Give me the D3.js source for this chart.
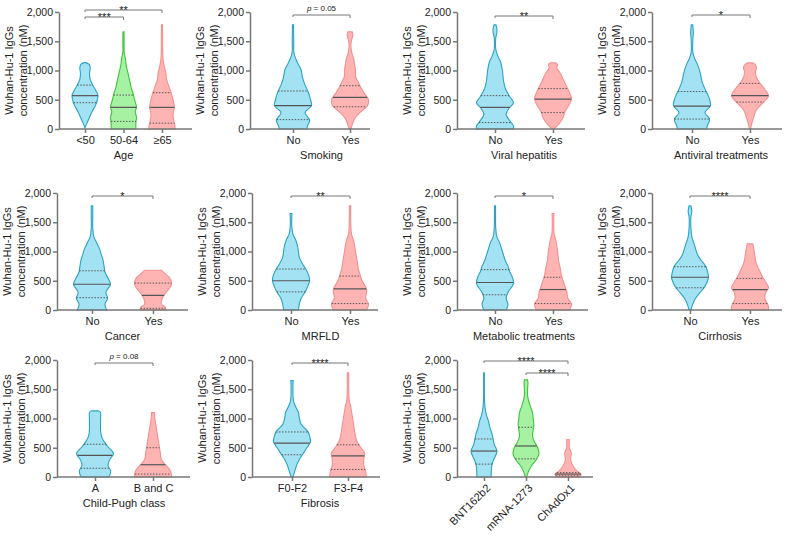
<!DOCTYPE html>
<html>
<head>
<meta charset="utf-8">
<script src="https://cdn.jsdelivr.net/npm/d3@7"></script>
<style>
  body { margin: 0; background: #fff; }
  text { font-family: "Liberation Sans", Arial, sans-serif; fill: #222; }
</style>
</head>
<body>
<script>
// ---- data: violin profiles are [value (nM), relative half-width 0..1] ----
// quartiles are [q1, median, q3]

var ageCats = ["<50", "50-64", "≥65"];
var ageProfiles = [
  [[20,0],[100,0.15],[200,0.35],[300,0.55],[400,0.8],[500,0.95],[570,1],[650,0.85],[750,0.6],[850,0.4],[950,0.35],[1050,0.4],[1110,0.3],[1135,0.05]],
  [[0,0.95],[100,0.95],[200,1],[300,0.9],[370,1],[500,0.85],[600,0.75],[700,0.6],[800,0.5],[900,0.4],[1000,0.3],[1100,0.2],[1200,0.15],[1300,0.06],[1500,0.05],[1660,0.04]],
  [[0,1],[50,1],[150,0.9],[250,0.85],[370,0.95],[500,0.85],[620,0.7],[750,0.5],[850,0.35],[950,0.3],[1100,0.15],[1200,0.08],[1400,0.05],[1600,0.05],[1780,0.04]]
];
var ageQuart = [[450,570,750],[130,370,580],[100,370,620]];

var smokingCats = ["No", "Yes"];
var smokingProfiles = [
  [[0,0.75],[50,0.78],[150,0.9],[280,0.65],[400,1],[500,0.95],[650,0.8],[750,0.65],[900,0.5],[1000,0.45],[1100,0.3],[1200,0.15],[1300,0.05],[1500,0.04],[1780,0.03]],
  [[0,0.05],[100,0.15],[200,0.3],[300,0.6],[400,0.95],[500,1],[600,0.8],[700,0.6],[800,0.45],[900,0.3],[1000,0.3],[1100,0.25],[1200,0.2],[1300,0.1],[1400,0.05],[1500,0.07],[1600,0.15],[1660,0.12]]
];
var smokingQuart = [[160,400,650],[380,540,740]];

var viralCats = ["No", "Yes"];
var viralProfiles = [
  [[0,1],[50,1],[120,0.85],[250,0.6],[350,0.75],[450,1],[550,0.8],[700,0.55],[850,0.45],[1000,0.4],[1150,0.3],[1250,0.15],[1350,0.05],[1550,0.04],[1650,0.1],[1720,0.1],[1780,0.05]],
  [[0,0.05],[100,0.35],[200,0.55],[300,0.65],[400,0.85],[520,1],[650,0.85],[750,0.7],[850,0.55],[950,0.4],[1050,0.2],[1100,0.25],[1130,0.15]]
];
var viralQuart = [[110,370,570],[280,510,690]];

var antiviralCats = ["No", "Yes"];
var antiviralProfiles = [
  [[0,0.8],[50,0.82],[170,0.95],[280,0.7],[400,1],[550,0.9],[650,0.75],[800,0.55],[950,0.45],[1100,0.3],[1200,0.15],[1300,0.05],[1500,0.04],[1650,0.07],[1780,0.04]],
  [[0,0.03],[100,0.1],[200,0.2],[300,0.3],[400,0.55],[480,0.8],[570,1],[680,0.8],[780,0.55],[880,0.35],[980,0.3],[1050,0.35],[1110,0.25],[1130,0.1]]
];
var antiviralQuart = [[170,390,640],[460,570,780]];

var cancerCats = ["No", "Yes"];
var cancerProfiles = [
  [[0,0.8],[100,0.7],[200,0.85],[300,0.75],[440,1],[550,0.85],[650,0.7],[750,0.65],[850,0.6],[950,0.5],[1050,0.4],[1150,0.25],[1250,0.1],[1400,0.04],[1600,0.04],[1780,0.04]],
  [[0,0.7],[50,0.65],[100,0.45],[200,0.5],[300,0.7],[400,0.95],[470,1],[550,0.9],[620,0.65],[680,0.45]]
];
var cancerQuart = [[210,440,670],[30,250,460]];

var mrfldCats = ["No", "Yes"];
var mrfldProfiles = [
  [[0,0.4],[100,0.45],[200,0.55],[300,0.75],[400,0.9],[500,1],[600,0.95],[700,0.8],[800,0.6],[900,0.45],[1000,0.4],[1100,0.35],[1200,0.25],[1300,0.1],[1450,0.04],[1650,0.05]],
  [[0,0.9],[100,1],[200,0.85],[350,0.9],[500,0.65],[600,0.55],[700,0.45],[800,0.4],[900,0.35],[1000,0.3],[1100,0.25],[1200,0.18],[1300,0.08],[1500,0.04],[1780,0.04]]
];
var mrfldQuart = [[310,500,700],[110,360,580]];

var metabolicCats = ["No", "Yes"];
var metabolicProfiles = [
  [[0,0.6],[100,0.7],[200,0.6],[300,0.7],[450,1],[550,0.95],[650,0.8],[750,0.7],[850,0.55],[950,0.45],[1050,0.35],[1150,0.25],[1250,0.1],[1400,0.04],[1600,0.03],[1780,0.03]],
  [[0,0.9],[100,1],[200,0.8],[300,0.75],[400,0.65],[500,0.55],[600,0.45],[700,0.4],[850,0.3],[1000,0.25],[1100,0.2],[1200,0.15],[1300,0.06],[1500,0.04],[1650,0.05]]
];
var metabolicQuart = [[260,470,690],[110,350,560]];

var cirrhosisCats = ["No", "Yes"];
var cirrhosisProfiles = [
  [[0,0.05],[100,0.15],[200,0.3],[300,0.55],[400,0.8],[500,0.95],[560,1],[650,0.95],[750,0.85],[850,0.6],[950,0.4],[1050,0.3],[1150,0.2],[1250,0.1],[1400,0.05],[1600,0.05],[1680,0.1],[1780,0.05]],
  [[0,1],[50,1],[100,0.95],[200,0.8],[300,0.85],[380,1],[450,0.9],[550,0.7],[650,0.55],[750,0.4],[850,0.3],[950,0.25],[1050,0.2],[1130,0.15]]
];
var cirrhosisQuart = [[380,560,740],[110,350,540]];

var childCats = ["A", "B and C"];
var childProfiles = [
  [[0,0.75],[100,0.85],[200,0.7],[300,0.8],[400,1],[500,0.75],[600,0.5],[700,0.35],[800,0.3],[900,0.3],[1000,0.3],[1100,0.3],[1130,0.2]],
  [[0,1],[100,0.95],[200,0.7],[300,0.45],[400,0.4],[500,0.35],[600,0.3],[700,0.25],[800,0.2],[900,0.15],[1000,0.1],[1100,0.08]]
];
var childQuart = [[150,370,560],[50,210,500]];

var fibrosisCats = ["F0-F2", "F3-F4"];
var fibrosisProfiles = [
  [[0,0.05],[100,0.15],[200,0.25],[300,0.4],[400,0.6],[500,0.8],[600,1],[700,0.95],[780,0.85],[900,0.5],[1000,0.4],[1100,0.35],[1200,0.2],[1300,0.08],[1500,0.05],[1650,0.06]],
  [[0,1],[100,0.95],[200,0.85],[300,0.85],[400,0.9],[500,0.7],[600,0.5],[700,0.4],[800,0.35],[900,0.3],[1000,0.25],[1100,0.2],[1200,0.15],[1300,0.07],[1500,0.04],[1780,0.04]]
];
var fibrosisQuart = [[380,580,770],[130,360,550]];

var vaccineCats = ["BNT162b2", "mRNA-1273", "ChAdOx1"];
var vaccineProfiles = [
  [[0,0.55],[200,0.6],[300,0.75],[440,1],[550,0.8],[650,0.7],[750,0.6],[850,0.45],[950,0.35],[1050,0.2],[1150,0.1],[1300,0.04],[1500,0.03],[1780,0.03]],
  [[0,0.05],[100,0.2],[200,0.45],[300,0.8],[400,1],[500,0.9],[600,0.65],[700,0.5],[800,0.55],[900,0.6],[1000,0.55],[1100,0.5],[1200,0.35],[1300,0.2],[1400,0.12],[1500,0.12],[1600,0.15],[1660,0.12]],
  [[0,0.9],[50,1],[100,0.7],[200,0.35],[300,0.2],[400,0.25],[450,0.2],[500,0.1],[600,0.1],[640,0.1]]
];
var vaccineQuart = [[220,444,650],[310,530,850],[20,50,75]];

var yTicks = [0, 500, 1000, 1500, 2000];

// colours
var palette = {
  blue:  {fill: "#a3e2f3", stroke: "#2aa2c4"},
  green: {fill: "#a6f2a2", stroke: "#3cc63c"},
  pink:  {fill: "#ffb4b4", stroke: "#f29090"}
};

// layout of the 11 panels (positions only)
var panels = [
  {cats: ageCats, prof: ageProfiles, quart: ageQuart, col: ["blue","green","pink"], title: "Age",
   ax: 59, xEnd: 192, range: [85,162], y0: 129, hw: 13,
   sig: [[0,2,"**",-2],[0,1,"***",5]]},
  {cats: smokingCats, prof: smokingProfiles, quart: smokingQuart, col: ["blue","pink"], title: "Smoking",
   ax: 250, xEnd: 370, range: [293,350], y0: 129, hw: 18.5, sig: [[0,1,"p = 0.05",3]]},
  {cats: viralCats, prof: viralProfiles, quart: viralQuart, col: ["blue","pink"], title: "Viral hepatitis",
   ax: 457, xEnd: 585, range: [495,553], y0: 129, hw: 18.5, sig: [[0,1,"**",4]]},
  {cats: antiviralCats, prof: antiviralProfiles, quart: antiviralQuart, col: ["blue","pink"], title: "Antiviral treatments",
   ax: 652, xEnd: 782, range: [692,750], y0: 129, hw: 18.5, sig: [[0,1,"*",3]]},
  {cats: cancerCats, prof: cancerProfiles, quart: cancerQuart, col: ["blue","pink"], title: "Cancer",
   ax: 57, xEnd: 188, range: [92,153], y0: 310, hw: 18.5, sig: [[0,1,"*",3]]},
  {cats: mrfldCats, prof: mrfldProfiles, quart: mrfldQuart, col: ["blue","pink"], title: "MRFLD",
   ax: 252, xEnd: 378, range: [291,350], y0: 310, hw: 18.5, sig: [[0,1,"**",3]]},
  {cats: metabolicCats, prof: metabolicProfiles, quart: metabolicQuart, col: ["blue","pink"], title: "Metabolic treatments",
   ax: 457, xEnd: 588, range: [495,553], y0: 310, hw: 18.5, sig: [[0,1,"*",3]]},
  {cats: cirrhosisCats, prof: cirrhosisProfiles, quart: cirrhosisQuart, col: ["blue","pink"], title: "Cirrhosis",
   ax: 652, xEnd: 782, range: [690,750], y0: 310, hw: 18.5, sig: [[0,1,"****",3]]},
  {cats: childCats, prof: childProfiles, quart: childQuart, col: ["blue","pink"], title: "Child-Pugh class",
   ax: 57, xEnd: 190, range: [95,153], y0: 477, hw: 18.5, sig: [[0,1,"p = 0.08",3]]},
  {cats: fibrosisCats, prof: fibrosisProfiles, quart: fibrosisQuart, col: ["blue","pink"], title: "Fibrosis",
   ax: 252, xEnd: 380, range: [292,348], y0: 477, hw: 18.5, sig: [[0,1,"****",3]]},
  {cats: vaccineCats, prof: vaccineProfiles, quart: vaccineQuart, col: ["blue","green","pink"], title: null,
   ax: 457, xEnd: 593, range: [484,568], y0: 477, hw: 13, rotate: true,
   sig: [[0,2,"****",1],[1,2,"****",13]]}
];

var tickFs = 10.5, labFs = 11;

var svg = d3.select("body").append("svg")
    .attr("width", 787)
    .attr("height", 541);

var plotH = 117;

// half width of the violin at a given value (linear between profile points)
function widthAt(prof, v) {
  if (v <= prof[0][0]) return prof[0][1];
  for (var i = 1; i < prof.length; i++) {
    if (v <= prof[i][0]) {
      var a = prof[i-1], b = prof[i];
      var t = (v - a[0]) / (b[0] - a[0]);
      return a[1] + t * (b[1] - a[1]);
    }
  }
  return prof[prof.length-1][1];
}

panels.forEach(function(p) {
  var g = svg.append("g");
  var y = d3.scaleLinear().domain([0, 2000]).range([p.y0, p.y0 - plotH]);
  var x = d3.scalePoint().domain(p.cats).range(p.range);
  var w = d3.scaleLinear().domain([0, 1]).range([0, p.hw]);

  // violins
  p.cats.forEach(function(c, i) {
    var cx = x(c);
    var prof = p.prof[i];
    var colr = palette[p.col[i]];
    var area = d3.area()
        .curve(d3.curveCatmullRom)
        .y(function(d) { return y(d[0]); })
        .x0(function(d) { return cx - w(d[1]); })
        .x1(function(d) { return cx + w(d[1]); });
    g.append("path")
        .datum(prof)
        .attr("d", area)
        .attr("fill", colr.fill)
        .attr("stroke", colr.stroke)
        .attr("stroke-width", 1.1);

    p.quart[i].forEach(function(v, k) {
      var hw = w(widthAt(prof, v));
      g.append("line")
          .attr("x1", cx - hw).attr("x2", cx + hw)
          .attr("y1", y(v)).attr("y2", y(v))
          .attr("stroke", "#555")
          .attr("stroke-width", k == 1 ? 1.2 : 1)
          .attr("stroke-dasharray", k == 1 ? null : "1.5,1.5");
    });
  });

  // y axis
  var yAxis = d3.axisLeft(y).tickValues(yTicks).tickFormat(d3.format(",")).tickSize(4).tickSizeOuter(0);
  var ga = g.append("g").attr("transform", "translate(" + p.ax + ",0)").call(yAxis);
  ga.selectAll("path, line").attr("stroke", "#777").attr("stroke-width", 1.5);
  ga.selectAll("text").attr("font-size", tickFs).attr("fill", "#222").attr("x", -6);

  // x axis
  g.append("line")
      .attr("x1", p.ax).attr("x2", p.xEnd)
      .attr("y1", p.y0).attr("y2", p.y0)
      .attr("stroke", "#777").attr("stroke-width", 1.5);
  var xAxis = d3.axisBottom(x).tickSize(4).tickSizeOuter(0);
  var gx = g.append("g").attr("transform", "translate(0," + p.y0 + ")").call(xAxis);
  gx.select(".domain").remove();
  gx.selectAll("line").attr("stroke", "#777").attr("stroke-width", 1.5);
  if (p.rotate) {
    gx.selectAll("text")
        .attr("font-size", labFs).attr("fill", "#222")
        .attr("text-anchor", "end")
        .attr("transform", "translate(4,9) rotate(-45)")
        .attr("dy", "0.35em").attr("y", 0).attr("x", 0);
  } else {
    gx.selectAll("text").attr("font-size", labFs).attr("fill", "#222").attr("y", 7);
  }

  if (p.title) {
    g.append("text")
        .attr("x", (p.range[0] + p.range[1]) / 2)
        .attr("y", p.y0 + 30)
        .attr("text-anchor", "middle")
        .attr("font-size", labFs)
        .text(p.title);
  }

  // y label (two lines, baselines set by offset from the axis)
  var midY = p.y0 - plotH / 2;
  [["Wuhan-Hu-1 IgGs", -46], ["concentration (nM)", -32.5]].forEach(function(l) {
    g.append("text")
        .attr("transform", "translate(" + (p.ax + l[1]) + "," + midY + ") rotate(-90)")
        .attr("text-anchor", "middle")
        .attr("font-size", labFs)
        .text(l[0]);
  });

  // significance brackets
  p.sig.forEach(function(s) {
    var xa = x(p.cats[s[0]]), xb = x(p.cats[s[1]]);
    var ly = y(2000) + s[3];
    g.append("path")
        .attr("d", "M" + xa + "," + (ly + 2) + "V" + ly + "H" + xb + "V" + (ly + 3))
        .attr("fill", "none").attr("stroke", "#777").attr("stroke-width", 1);
    var t = g.append("text")
        .attr("x", (xa + xb) / 2)
        .attr("text-anchor", "middle");
    if (s[2].indexOf("p") == 0) {
      t.attr("y", ly - 4).attr("font-size", 8);
      t.append("tspan").attr("font-style", "italic").text("p");
      t.append("tspan").text(s[2].slice(1));
    } else {
      t.attr("y", ly + 4).attr("font-size", 11).text(s[2]);
    }
  });
});
</script>
</body>
</html>
